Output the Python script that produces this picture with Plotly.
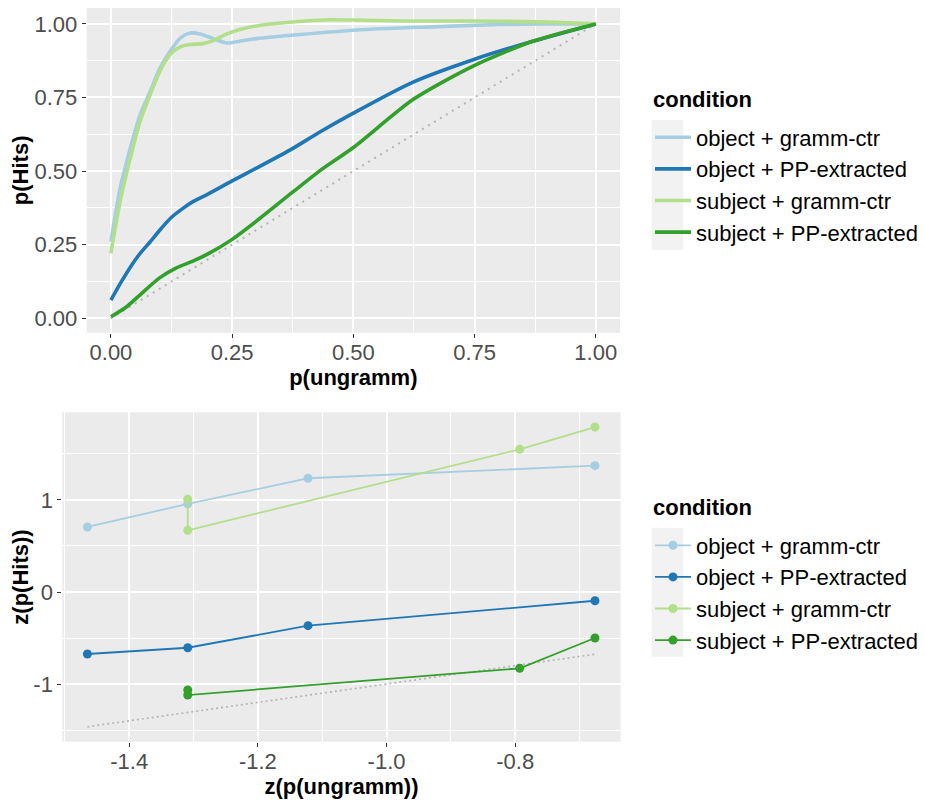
import plotly.graph_objects as go

# ---------------- data ----------------
conditions = ["object + gramm-ctr", "object + PP-extracted",
              "subject + gramm-ctr", "subject + PP-extracted"]
colors = ["#A6CEE3", "#1F78B4", "#B2DF8A", "#33A02C"]
legend_title = "condition"

# Top panel: smoothed curves  p(ungramm) -> p(Hits)
obj_gramm_x = [0, 0.019, 0.04, 0.06, 0.081, 0.101, 0.122, 0.143, 0.163, 0.184, 0.211,
               0.239, 0.266, 0.3, 0.39, 0.527, 0.664, 0.8, 0.9, 1.0]
obj_gramm_y = [0.26, 0.442, 0.578, 0.69, 0.771, 0.85, 0.907, 0.952, 0.969, 0.966, 0.95,
               0.935, 0.941, 0.95, 0.964, 0.981, 0.99, 0.998, 1.0, 1.0]

obj_pp_x = [0, 0.02, 0.043, 0.06, 0.081, 0.101, 0.125, 0.15, 0.17, 0.2, 0.25, 0.3,
            0.37, 0.43, 0.5, 0.62, 0.75, 0.87, 1.0]
obj_pp_y = [0.062, 0.12, 0.181, 0.22, 0.26, 0.30, 0.343, 0.375, 0.397, 0.422, 0.467, 0.51,
            0.572, 0.632, 0.697, 0.80, 0.88, 0.941, 1.0]

subj_gramm_x = [0, 0.019, 0.04, 0.06, 0.081, 0.101, 0.122, 0.143, 0.163, 0.19, 0.211,
                0.239, 0.266, 0.3, 0.35, 0.4, 0.45, 0.5, 0.6, 0.7, 0.8, 0.9, 1.0]
subj_gramm_y = [0.221, 0.397, 0.544, 0.669, 0.76, 0.839, 0.896, 0.922, 0.93, 0.933, 0.943,
                0.966, 0.981, 0.993, 1.003, 1.01, 1.014, 1.013, 1.01, 1.01, 1.009, 1.006, 1.0]

subj_pp_x = [0, 0.033, 0.067, 0.101, 0.136, 0.17, 0.204, 0.25, 0.3, 0.376, 0.43, 0.5,
             0.623, 0.746, 0.87, 1.0]
subj_pp_y = [0.005, 0.04, 0.09, 0.138, 0.172, 0.195, 0.222, 0.268, 0.33, 0.43, 0.50, 0.58,
             0.743, 0.856, 0.941, 1.0]

diag_top = [0, 1]

# Bottom panel: z-transformed points
z_obj_gramm_x = [-1.465, -1.309, -1.122, -0.676]
z_obj_gramm_y = [0.707, 0.957, 1.236, 1.373]
z_obj_pp_x = [-1.465, -1.309, -1.122, -0.676]
z_obj_pp_y = [-0.674, -0.606, -0.366, -0.095]
z_subj_gramm_x = [-1.309, -1.309, -0.793, -0.676]
z_subj_gramm_y = [1.008, 0.670, 1.551, 1.793]
z_subj_pp_x = [-1.309, -1.309, -0.793, -0.676]
z_subj_pp_y = [-1.065, -1.12, -0.829, -0.50]

diag_bottom = [-1.465, -0.676]

top_ticks = [0, 0.25, 0.5, 0.75, 1.0]
top_ticklabels = ["0.00", "0.25", "0.50", "0.75", "1.00"]
bot_xticks = [-1.4, -1.2, -1.0, -0.8]
bot_xticklabels = ["-1.4", "-1.2", "-1.0", "-0.8"]
bot_yticks = [-1, 0, 1]
bot_yticklabels = ["-1", "0", "1"]

# ---------------- figure ----------------
OFF = 8                      # default page body margin
W, H = 926 - OFF, 802 - OFF
FONT = "Liberation Sans, Arial, sans-serif"


def px_x(v):
    return min(1.0, max(0.0, (v - OFF) / W))


def px_y(v):
    return min(1.0, max(0.0, 1 - (v - OFF) / H))


fig = go.Figure()

fig.add_trace(go.Scatter(x=diag_top, y=diag_top, mode="lines",
                         line=dict(color="#B5B5B5", width=2, dash="2px,5px"),
                         showlegend=False, hoverinfo="skip", xaxis="x", yaxis="y"))

top_series = [(obj_gramm_x, obj_gramm_y), (obj_pp_x, obj_pp_y),
              (subj_gramm_x, subj_gramm_y), (subj_pp_x, subj_pp_y)]
for (xs, ys), name, col in zip(top_series, conditions, colors):
    fig.add_trace(go.Scatter(x=xs, y=ys, mode="lines", name=name,
                             line=dict(color=col, width=3.6, shape="spline", smoothing=0.7),
                             legend="legend", xaxis="x", yaxis="y"))

fig.add_trace(go.Scatter(x=diag_bottom, y=diag_bottom, mode="lines",
                         line=dict(color="#B5B5B5", width=1.7, dash="2px,3px"),
                         showlegend=False, hoverinfo="skip", xaxis="x2", yaxis="y2"))

bot_series = [(z_obj_gramm_x, z_obj_gramm_y), (z_obj_pp_x, z_obj_pp_y),
              (z_subj_gramm_x, z_subj_gramm_y), (z_subj_pp_x, z_subj_pp_y)]
for (xs, ys), name, col in zip(bot_series, conditions, colors):
    fig.add_trace(go.Scatter(x=xs, y=ys, mode="lines+markers", name=name,
                             line=dict(color=col, width=1.8),
                             marker=dict(color=col, size=9),
                             legend="legend2", xaxis="x2", yaxis="y2"))

tickfont = dict(family=FONT, size=22, color="#4D4D4D")
titlefont = dict(family=FONT, size=22, color="black")
common = dict(showgrid=True, gridcolor="white", gridwidth=1.6, zeroline=False,
              ticks="outside", ticklen=4, tickwidth=1.1, tickcolor="#333333",
              tickfont=tickfont, showline=False, tickmode="array")
xcommon = dict(ticklabelstandoff=-4)

legend_common = dict(xanchor="left", yanchor="top", bgcolor="rgba(0,0,0,0)",
                     font=dict(family=FONT, size=22, color="black"),
                     itemwidth=36, tracegroupgap=0)

fig.update_layout(
    width=W, height=H,
    margin=dict(l=0, r=0, t=0, b=0),
    paper_bgcolor="white",
    plot_bgcolor="#EBEBEB",
    font=dict(family=FONT, size=22, color="black"),
    xaxis=dict(domain=[px_x(86.7), px_x(620)], range=[-0.05, 1.05], anchor="y",
               tickvals=top_ticks, ticktext=top_ticklabels,
               minor=dict(tickmode="array", tickvals=[0.125, 0.375, 0.625, 0.875],
                          showgrid=True, gridcolor="white", gridwidth=0.8),
               title=dict(text="<b>p(ungramm)</b>", font=titlefont, standoff=4),
               **common, **xcommon),
    yaxis=dict(domain=[px_y(332.7), px_y(8)], range=[-0.049, 1.054], anchor="x",
               tickvals=top_ticks, ticktext=top_ticklabels,
               minor=dict(tickmode="array", tickvals=[0.125, 0.375, 0.625, 0.875],
                          showgrid=True, gridcolor="white", gridwidth=0.8),
               title=dict(text="<b>p(Hits)</b>", font=titlefont, standoff=0),
               **common),
    xaxis2=dict(domain=[px_x(62.3), px_x(620.7)], range=[-1.504, -0.636], anchor="y2",
                tickvals=bot_xticks, ticktext=bot_xticklabels,
                minor=dict(tickmode="array", tickvals=[-1.5, -1.3, -1.1, -0.9, -0.7],
                           showgrid=True, gridcolor="white", gridwidth=0.8),
                title=dict(text="<b>z(p(ungramm))</b>", font=titlefont, standoff=4),
                **common, **xcommon),
    yaxis2=dict(domain=[px_y(741.7), px_y(412.3)], range=[-1.627, 1.953], anchor="x2",
                tickvals=bot_yticks, ticktext=bot_yticklabels,
                minor=dict(tickmode="array", tickvals=[-1.5, -0.5, 0.5, 1.5],
                           showgrid=True, gridcolor="white", gridwidth=0.8),
                title=dict(text="<b>z(p(Hits))</b>", font=titlefont, standoff=0),
                **common),
    legend=dict(x=px_x(650), y=px_y(116.5), **legend_common),
    legend2=dict(x=px_x(650), y=px_y(524.5), **legend_common),
    annotations=[
        dict(text="<b>%s</b>" % legend_title, xref="paper", yref="paper",
             x=px_x(651), y=px_y(100), xanchor="left", yanchor="middle",
             showarrow=False, font=dict(family=FONT, size=22, color="black")),
        dict(text="<b>%s</b>" % legend_title, xref="paper", yref="paper",
             x=px_x(651), y=px_y(507), xanchor="left", yanchor="middle",
             showarrow=False, font=dict(family=FONT, size=22, color="black")),
    ],
    shapes=[
        dict(type="rect", xref="paper", yref="paper",
             x0=px_x(651.7), x1=px_x(683.3), y0=px_y(250), y1=px_y(120),
             fillcolor="#F2F2F2", line=dict(width=0), layer="below"),
        dict(type="rect", xref="paper", yref="paper",
             x0=px_x(651.7), x1=px_x(683.3), y0=px_y(656.7), y1=px_y(528),
             fillcolor="#F2F2F2", line=dict(width=0), layer="below"),
    ],
)

fig.write_html("out.html")
